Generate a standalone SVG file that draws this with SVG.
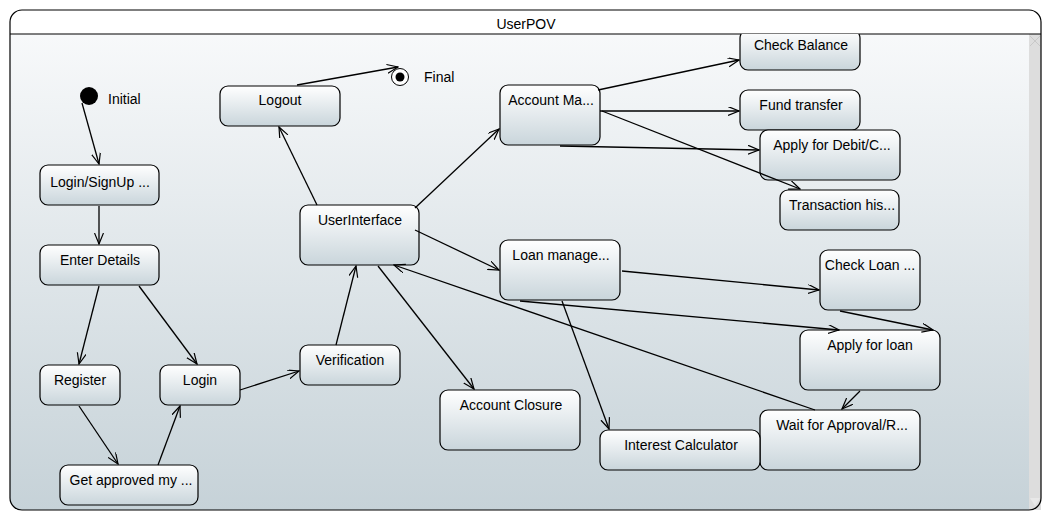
<svg xmlns="http://www.w3.org/2000/svg" width="1051" height="521" viewBox="0 0 1051 521">
<defs>
<linearGradient id="bg" x1="0" y1="0" x2="0" y2="1">
<stop offset="0" stop-color="#fafbfc"/>
<stop offset="1" stop-color="#c6d2d8"/>
</linearGradient>
<linearGradient id="nodeg" x1="0" y1="0" x2="0" y2="1">
<stop offset="0" stop-color="#ffffff"/>
<stop offset="1" stop-color="#c9d5db"/>
</linearGradient>
<marker id="arr" markerWidth="12" markerHeight="10" refX="11" refY="4.5" orient="auto" markerUnits="userSpaceOnUse">
<path d="M0,0 L11,4.5 L0,9" fill="none" stroke="#000" stroke-width="1.2"/>
</marker>
<clipPath id="body"><rect x="10" y="34" width="1019" height="477"/></clipPath>
</defs>
<style>
.n rect{fill:url(#nodeg);stroke:#000;stroke-width:1.2}
text{font-family:"Liberation Sans",Arial,sans-serif;font-size:14px;fill:#000}
.c{text-anchor:middle}
#connectors line{stroke:#000;stroke-width:1.3;marker-end:url(#arr)}
</style>
<rect x="0" y="0" width="1051" height="521" fill="#ffffff"/>
<g id="frame">
<rect x="10" y="10" width="1031" height="500" rx="12" fill="url(#bg)"/>
<path d="M10,34 V22 Q10,10 22,10 H1029 Q1041,10 1041,22 V34 Z" fill="#ffffff"/>
<rect x="1029" y="34" width="12" height="476" fill="#dddddd"/>
<path d="M1030,36 L1040,46 M1040,36 L1030,46" stroke="#c8c8c8" stroke-width="1"/>
<path d="M1030,498 L1040,498 L1035,506 Z" fill="#e8e8e8"/>
<rect x="10" y="10" width="1031" height="500" rx="12" fill="none" stroke="#000" stroke-width="1.2"/>
<line x1="10" y1="34" x2="1041" y2="34" stroke="#000" stroke-width="1.2"/>
<text class="c" x="526" y="29">UserPOV</text>
</g>
<g clip-path="url(#body)">
<g id="initial"><circle cx="89" cy="96" r="9" fill="#000"/><text x="108" y="104">Initial</text></g>
<g id="final"><circle cx="400" cy="77" r="8.5" fill="#fff" stroke="#000" stroke-width="1"/><circle cx="400" cy="77" r="4.5" fill="#000"/><text x="424" y="82">Final</text></g>
<g id="logout" class="n"><rect x="220" y="86" width="120" height="40" rx="8"/><text class="c" x="280" y="105">Logout</text></g>
<g id="loginsignup" class="n"><rect x="40" y="165" width="119" height="40" rx="8"/><text class="c" x="100" y="187">Login/SignUp ...</text></g>
<g id="enterdetails" class="n"><rect x="40" y="245" width="119" height="40" rx="8"/><text class="c" x="100" y="265">Enter Details</text></g>
<g id="register" class="n"><rect x="40" y="365" width="80" height="40" rx="8"/><text class="c" x="80" y="385">Register</text></g>
<g id="login" class="n"><rect x="160" y="365" width="80" height="40" rx="8"/><text class="c" x="200" y="385">Login</text></g>
<g id="getapproved" class="n"><rect x="60" y="465" width="138" height="40" rx="8"/><text class="c" x="131" y="485">Get approved my ...</text></g>
<g id="verification" class="n"><rect x="300" y="345" width="100" height="40" rx="8"/><text class="c" x="350" y="365">Verification</text></g>
<g id="userinterface" class="n"><rect x="300" y="205" width="119" height="60" rx="8"/><text class="c" x="360" y="225">UserInterface</text></g>
<g id="accountma" class="n"><rect x="500" y="85" width="100" height="60" rx="8"/><text class="c" x="551" y="105">Account Ma...</text></g>
<g id="checkbalance" class="n"><rect x="740" y="30" width="120" height="40" rx="8"/><text class="c" x="801" y="50">Check Balance</text></g>
<g id="fundtransfer" class="n"><rect x="740" y="90" width="120" height="40" rx="8"/><text class="c" x="801" y="110">Fund transfer</text></g>
<g id="applydebit" class="n"><rect x="760" y="130" width="140" height="50" rx="8"/><text class="c" x="832" y="150">Apply for Debit/C...</text></g>
<g id="transaction" class="n"><rect x="780" y="190" width="119" height="40" rx="8"/><text class="c" x="842" y="210">Transaction his...</text></g>
<g id="loanmanage" class="n"><rect x="500" y="240" width="120" height="60" rx="8"/><text class="c" x="561" y="260">Loan manage...</text></g>
<g id="checkloan" class="n"><rect x="820" y="250" width="100" height="60" rx="8"/><text class="c" x="870" y="270">Check Loan ...</text></g>
<g id="applyloan" class="n"><rect x="800" y="330" width="140" height="60" rx="8"/><text class="c" x="870" y="350">Apply for loan</text></g>
<g id="waitapproval" class="n"><rect x="760" y="410" width="160" height="60" rx="8"/><text class="c" x="842" y="430">Wait for Approval/R...</text></g>
<g id="interest" class="n"><rect x="600" y="430" width="160" height="40" rx="8"/><text class="c" x="681" y="450">Interest Calculator</text></g>
<g id="accountclosure" class="n"><rect x="440" y="390" width="140" height="60" rx="8"/><text class="c" x="511" y="410">Account Closure</text></g>
<g id="connectors">
<line x1="82" y1="103" x2="99" y2="164"/>
<line x1="99" y1="206" x2="99" y2="244"/>
<line x1="99" y1="286" x2="79" y2="364"/>
<line x1="139" y1="286" x2="197" y2="364"/>
<line x1="79" y1="406" x2="118" y2="464"/>
<line x1="158" y1="465" x2="180" y2="406"/>
<line x1="240" y1="390" x2="299" y2="371"/>
<line x1="336" y1="345" x2="356" y2="266"/>
<line x1="317" y1="205" x2="279" y2="127"/>
<line x1="297" y1="85" x2="398" y2="67"/>
<line x1="415" y1="208" x2="499" y2="129"/>
<line x1="415" y1="230" x2="499" y2="270"/>
<line x1="378" y1="266" x2="474" y2="389"/>
<line x1="815" y1="410" x2="394" y2="265"/>
<line x1="598" y1="90" x2="739" y2="60"/>
<line x1="600" y1="111" x2="739" y2="111"/>
<line x1="560" y1="146" x2="759" y2="150"/>
<line x1="602" y1="111" x2="800" y2="189"/>
<line x1="622" y1="271" x2="819" y2="290"/>
<line x1="520" y1="301" x2="839" y2="330"/>
<line x1="562" y1="301" x2="609" y2="429"/>
<line x1="840" y1="311" x2="933" y2="330"/>
<line x1="860" y1="391" x2="842" y2="409"/>
</g>
</g>
</svg>
